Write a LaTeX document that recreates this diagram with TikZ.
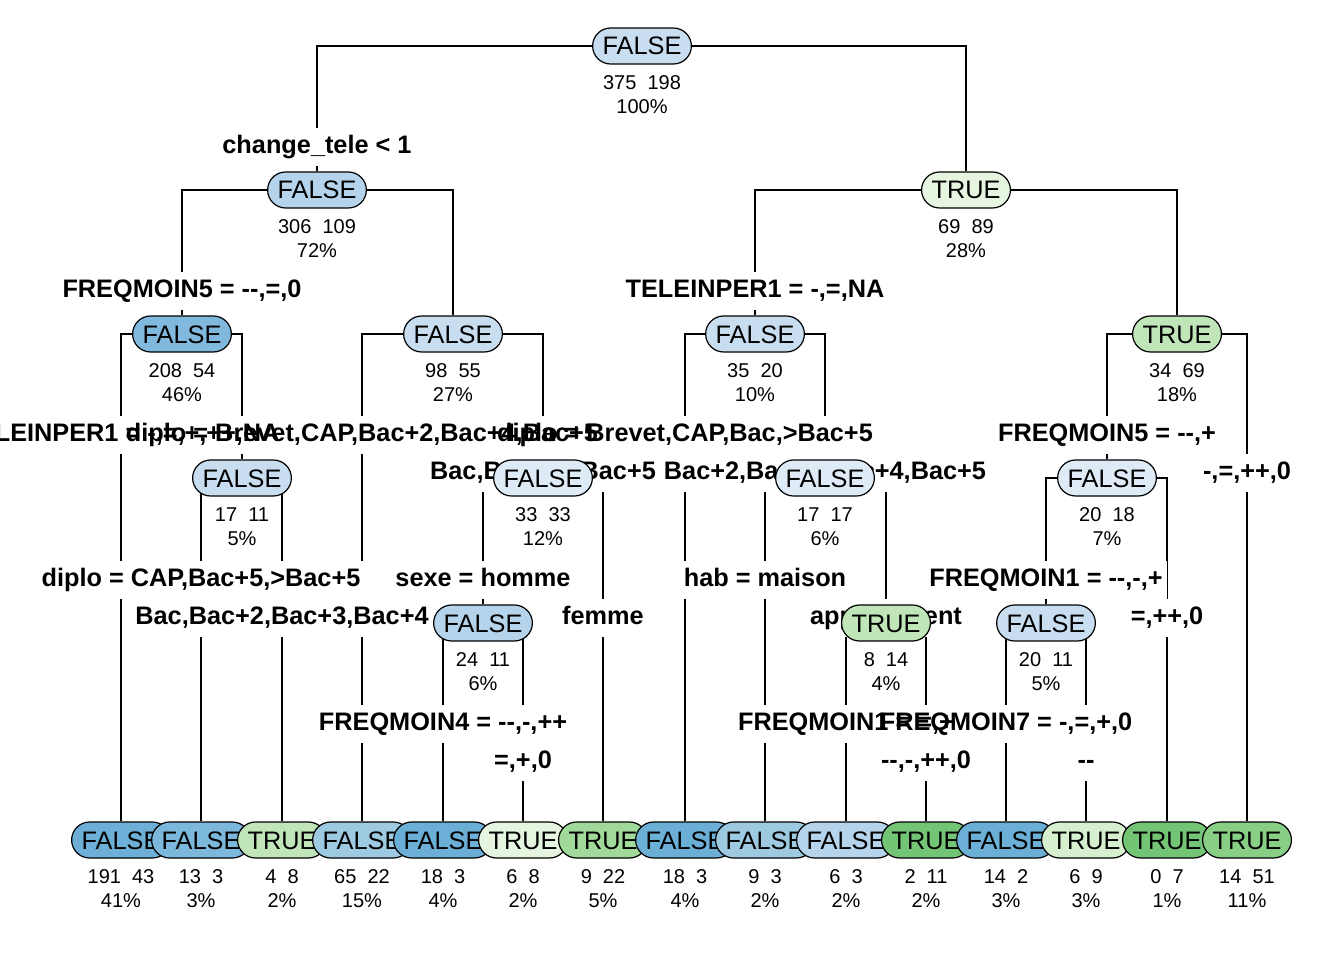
\documentclass[tikz,border=0pt]{standalone}
\usepackage{fontspec}
\setmainfont{Liberation Sans}[Ligatures=TeXOff]
\usepackage{tikz}
\usetikzlibrary{positioning}

\definecolor{paleBlue}{HTML}{DEEBF7}
\definecolor{lightBlue}{HTML}{C9DDF0}
\definecolor{skyBlue}{HTML}{B5D3EA}
\definecolor{midBlue}{HTML}{9ECAE1}
\definecolor{deepBlue}{HTML}{80B9DD}
\definecolor{strongBlue}{HTML}{6BAED6}
\definecolor{paleGreen}{HTML}{E5F5E0}
\definecolor{softGreen}{HTML}{D5EFCF}
\definecolor{lightGreen}{HTML}{BFE5B8}
\definecolor{midGreen}{HTML}{A1D99B}
\definecolor{leafGreen}{HTML}{88CE85}
\definecolor{strongGreen}{HTML}{74C476}

\pgfdeclarelayer{lines}
\pgfdeclarelayer{boxes}
\pgfdeclarelayer{front}
\pgfsetlayers{lines,boxes,main,front}

\tikzset{
  treenode/.style={draw=black, line width=1.2pt, rounded corners=18pt, minimum height=36pt,
    inner xsep=10pt, inner ysep=0pt, text height=18pt, text depth=0pt,
    font=\fontsize{25.3}{30}\selectfont},
  info/.style={align=center, inner sep=0pt, font=\fontsize{20}{24}\selectfont},
  splitlab/.style={inner xsep=4pt, inner ysep=7.5pt, text height=18.5pt, text depth=5pt,
    font=\fontsize{25.3}{30}\selectfont\bfseries},
  branch/.style={line width=1.2pt, black},
}

\begin{document}
\begin{tikzpicture}[x=1pt,y=-1pt]
  \useasboundingbox (0,0) rectangle (1344,960);

  % split labels
  \node[splitlab] (s1l) at (317,147) {change\_tele < 1};
  \node[splitlab] (s2l) at (182,291) {FREQMOIN5 = --,=,0};
  \node[splitlab] (s3l) at (755,291) {TELEINPER1 = -,=,NA};
  \node[splitlab] (s4l) at (121,435) {TELEINPER1 = -,=,+,++,NA};
  \node[splitlab] (s5l) at (362,435) {diplo = Brevet,CAP,Bac+2,Bac+4,Bac+5};
  \node[splitlab] (s5r) at (543,473) {Bac,Bac+3,>Bac+5};
  \node[splitlab] (s6l) at (685,435) {diplo = Brevet,CAP,Bac,>Bac+5};
  \node[splitlab] (s6r) at (825,473) {Bac+2,Bac+3,Bac+4,Bac+5};
  \node[splitlab] (s7l) at (1107,435) {FREQMOIN5 = --,+};
  \node[splitlab] (s7r) at (1247,473) {-,=,++,0};
  \node[splitlab] (s9l) at (201,580) {diplo = CAP,Bac+5,>Bac+5};
  \node[splitlab] (s9r) at (282,618) {Bac,Bac+2,Bac+3,Bac+4};
  \node[splitlab] (s11l) at (483,580) {sexe = homme};
  \node[splitlab] (s11r) at (603,618) {femme};
  \node[splitlab] (s13l) at (765,580) {hab = maison};
  \node[splitlab] (s13r) at (886,618) {appartement};
  \node[splitlab] (s14l) at (1046,580) {FREQMOIN1 = --,-,+};
  \node[splitlab] (s14r) at (1167,618) {=,++,0};
  \node[splitlab] (s22l) at (443,724) {FREQMOIN4 = --,-,++};
  \node[splitlab] (s22r) at (523,762) {=,+,0};
  \node[splitlab] (s27l) at (846,724) {FREQMOIN1 = =,+};
  \node[splitlab] (s27r) at (926,762) {--,-,++,0};
  \node[splitlab] (s28l) at (1006,724) {FREQMOIN7 = -,=,+,0};
  \node[splitlab] (s28r) at (1086,762) {--};

  \begin{pgfonlayer}{front}
  % inner nodes
  \node[treenode, fill=lightBlue] (n1) at (642,46) {FALSE};
  \node[treenode, fill=skyBlue] (n2) at (317,190) {FALSE};
  \node[treenode, fill=paleGreen] (n3) at (966,190) {TRUE};
  \node[treenode, fill=deepBlue] (n4) at (182,334) {FALSE};
  \node[treenode, fill=lightBlue] (n5) at (453,334) {FALSE};
  \node[treenode, fill=lightBlue] (n6) at (755,334) {FALSE};
  \node[treenode, fill=lightGreen] (n7) at (1177,334) {TRUE};
  \node[treenode, fill=lightBlue] (n9) at (242,478) {FALSE};
  \node[treenode, fill=paleBlue] (n11) at (543,478) {FALSE};
  \node[treenode, fill=paleBlue] (n13) at (825,478) {FALSE};
  \node[treenode, fill=paleBlue] (n14) at (1107,478) {FALSE};
  \node[treenode, fill=skyBlue] (n22) at (483,623) {FALSE};
  \node[treenode, fill=lightGreen] (n27) at (886,623) {TRUE};
  \node[treenode, fill=lightBlue] (n28) at (1046,623) {FALSE};

  % leaves, left to right
  \node[treenode, fill=strongBlue!90!deepBlue] (n8) at (121,840) {FALSE};
  \node[treenode, fill=deepBlue!80!strongBlue] (n18) at (201,840) {FALSE};
  \node[treenode, fill=lightGreen] (n19) at (282,840) {TRUE};
  \node[treenode, fill=midBlue] (n10) at (362,840) {FALSE};
  \node[treenode, fill=strongBlue] (n44) at (443,840) {FALSE};
  \node[treenode, fill=paleGreen] (n45) at (523,840) {TRUE};
  \node[treenode, fill=midGreen] (n23) at (603,840) {TRUE};
  \node[treenode, fill=strongBlue] (n12) at (685,840) {FALSE};
  \node[treenode, fill=midBlue] (n26) at (765,840) {FALSE};
  \node[treenode, fill=skyBlue] (n54) at (846,840) {FALSE};
  \node[treenode, fill=strongGreen] (n55) at (926,840) {TRUE};
  \node[treenode, fill=strongBlue] (n56) at (1006,840) {FALSE};
  \node[treenode, fill=softGreen] (n57) at (1086,840) {TRUE};
  \node[treenode, fill=strongGreen] (n29) at (1167,840) {TRUE};
  \node[treenode, fill=leafGreen] (n15) at (1247,840) {TRUE};
  \end{pgfonlayer}

  % counts and shares
  \node[info, below=11pt of n1] (n1i) {375\ \ 198\\100\%};
  \node[info, below=11pt of n2] (n2i) {306\ \ 109\\72\%};
  \node[info, below=11pt of n3] (n3i) {69\ \ 89\\28\%};
  \node[info, below=11pt of n4] (n4i) {208\ \ 54\\46\%};
  \node[info, below=11pt of n5] (n5i) {98\ \ 55\\27\%};
  \node[info, below=11pt of n6] (n6i) {35\ \ 20\\10\%};
  \node[info, below=11pt of n7] (n7i) {34\ \ 69\\18\%};
  \node[info, below=11pt of n9] (n9i) {17\ \ 11\\5\%};
  \node[info, below=11pt of n11] (n11i) {33\ \ 33\\12\%};
  \node[info, below=11pt of n13] (n13i) {17\ \ 17\\6\%};
  \node[info, below=11pt of n14] (n14i) {20\ \ 18\\7\%};
  \node[info, below=11pt of n22] (n22i) {24\ \ 11\\6\%};
  \node[info, below=11pt of n27] (n27i) {8\ \ 14\\4\%};
  \node[info, below=11pt of n28] (n28i) {20\ \ 11\\5\%};
  \node[info, below=11pt of n8] (n8i) {191\ \ 43\\41\%};
  \node[info, below=11pt of n18] (n18i) {13\ \ 3\\3\%};
  \node[info, below=11pt of n19] (n19i) {4\ \ 8\\2\%};
  \node[info, below=11pt of n10] (n10i) {65\ \ 22\\15\%};
  \node[info, below=11pt of n44] (n44i) {18\ \ 3\\4\%};
  \node[info, below=11pt of n45] (n45i) {6\ \ 8\\2\%};
  \node[info, below=11pt of n23] (n23i) {9\ \ 22\\5\%};
  \node[info, below=11pt of n12] (n12i) {18\ \ 3\\4\%};
  \node[info, below=11pt of n26] (n26i) {9\ \ 3\\2\%};
  \node[info, below=11pt of n54] (n54i) {6\ \ 3\\2\%};
  \node[info, below=11pt of n55] (n55i) {2\ \ 11\\2\%};
  \node[info, below=11pt of n56] (n56i) {14\ \ 2\\3\%};
  \node[info, below=11pt of n57] (n57i) {6\ \ 9\\3\%};
  \node[info, below=11pt of n29] (n29i) {0\ \ 7\\1\%};
  \node[info, below=11pt of n15] (n15i) {14\ \ 51\\11\%};

  % branches
  \begin{pgfonlayer}{lines}
  \foreach \p/\a/\b in {1/2/3, 2/4/5, 3/6/7, 4/8/9, 5/10/11, 6/12/13, 7/14/15,
      9/18/19, 11/22/23, 13/26/27, 14/28/29, 22/44/45, 27/54/55, 28/56/57}
    \draw[branch] (n\a.north) |- (n\p.center) -| (n\b.north);
  \end{pgfonlayer}

  % label backgrounds break the branches
  \begin{pgfonlayer}{boxes}
  \foreach \s in {s1l,s2l,s3l,s4l,s5l,s5r,s6l,s6r,s7l,s7r,s9l,s9r,s11l,s11r,
      s13l,s13r,s14l,s14r,s22l,s22r,s27l,s27r,s28l,s28r}
    \fill[white] (\s.south west) rectangle (\s.north east);
  \end{pgfonlayer}
\end{tikzpicture}
\end{document}
